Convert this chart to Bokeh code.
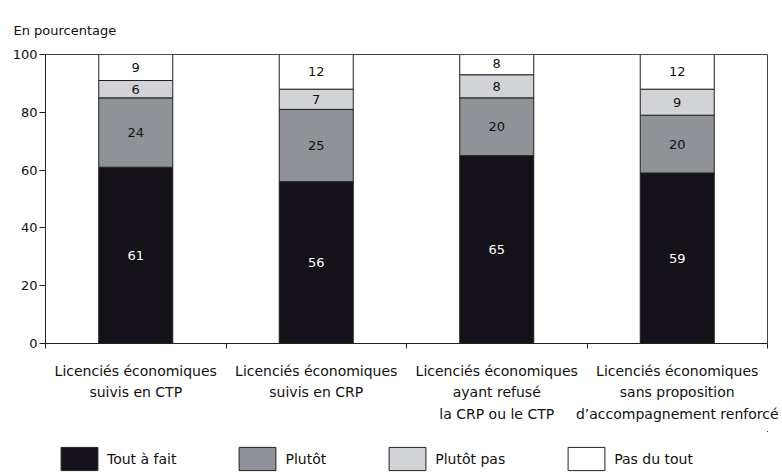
import numpy as np
from bokeh.plotting import figure
from bokeh.layouts import column
from bokeh.models import Range1d, FixedTicker, ColumnDataSource, Legend, LegendItem, Title
from bokeh.core.properties import value
from bokeh.embed import file_html
from bokeh.resources import INLINE

categories = [
    "Licenciés économiques\nsuivis en CTP",
    "Licenciés économiques\nsuivis en CRP",
    "Licenciés économiques\nayant refusé\nla CRP ou le CTP",
    "Licenciés économiques\nsans proposition\nd’accompagnement renforcé",
]
tout_a_fait = [61, 56, 65, 59]
plutot = [24, 25, 20, 20]
plutot_pas = [6, 7, 8, 9]
pas_du_tout = [9, 12, 8, 12]
series_names = ["Tout à fait", "Plutôt", "Plutôt pas", "Pas du tout"]
y_ticks = [0, 20, 40, 60, 80, 100]

colors = ["#141118", "#8f9297", "#d2d3d6", "#ffffff"]
text_colors = ["#ffffff", "#111111", "#111111", "#111111"]
edge = "#231f20"
FONT = "DejaVu Sans"

xs = [i + 0.5 for i in range(len(categories))]
series = [tout_a_fait, plutot, plutot_pas, pas_du_tout]
keys = ["s0", "s1", "s2", "s3"]
data = {"x": xs}
for k, s in zip(keys, series):
    data[k] = s
src = ColumnDataSource(data)

p = figure(frame_width=722, frame_height=289, output_backend="svg", toolbar_location=None,
           x_range=Range1d(0, len(categories)), y_range=Range1d(0, 100),
           min_border_left=45, min_border_right=15, min_border_top=54, min_border_bottom=88)
p.grid.visible = False
p.background_fill_color = "white"
p.border_fill_color = "white"
p.outline_line_color = "#444444"
p.outline_line_width = 1

rends = p.vbar_stack(keys, x="x", width=0.41, source=src, fill_color=colors,
                     line_color=edge, line_width=1)

# segment labels
cum = np.zeros(len(categories))
for s, tc in zip(series, text_colors):
    arr = np.array(s, dtype=float)
    mids = cum + arr / 2
    cum = cum + arr
    p.text(x=xs, y=list(mids), text=[str(v) for v in s], text_align="center",
           text_baseline="middle", text_font=value(FONT), text_font_size="13px",
           text_color=tc)

# axes
xa = p.xaxis[0]
xa.ticker = FixedTicker(ticks=xs, minor_ticks=list(range(len(categories) + 1)))
xa.major_label_overrides = {x: c for x, c in zip(xs, categories)}
xa.major_tick_line_color = None
xa.major_tick_out = 0
xa.minor_tick_out = 5
xa.minor_tick_in = 0
xa.minor_tick_line_color = edge
xa.axis_line_color = edge
xa.major_label_standoff = 14
xa.major_label_text_font = FONT
xa.major_label_text_font_size = "14px"
xa.major_label_text_color = "#111111"
xa.major_label_text_line_height = 1.35

ya = p.yaxis[0]
ya.ticker = FixedTicker(ticks=y_ticks, minor_ticks=[])
ya.major_tick_out = 6
ya.major_tick_in = 0
ya.major_tick_line_color = edge
ya.axis_line_color = edge
ya.major_label_standoff = 2
ya.major_label_text_font = FONT
ya.major_label_text_font_size = "13px"
ya.major_label_text_color = "#111111"

t = Title(text="En pourcentage", align="left", vertical_align="top", text_font=FONT,
          text_font_size="13px", text_font_style="normal", text_color="#111111",
          standoff=30, offset=-32)
p.add_layout(t, "above")

# legend strip below the chart (its bars fall outside its ranges; only the legend shows)
lg = figure(width=782, height=44, output_backend="svg", toolbar_location=None,
            x_range=Range1d(-20, -10), y_range=Range1d(-20, -10),
            min_border_left=0, min_border_right=0, min_border_top=0, min_border_bottom=0)
lg.axis.visible = False
lg.grid.visible = False
lg.outline_line_color = None
lrends = lg.vbar_stack(keys, x="x", width=0.41, source=src, fill_color=colors,
                       line_color=edge, line_width=1)
legend = Legend(items=[LegendItem(label=n, renderers=[r]) for n, r in zip(series_names, lrends)],
                orientation="horizontal", glyph_width=46, glyph_height=29,
                label_standoff=5, spacing=58, padding=0, margin=0,
                label_text_font=FONT, label_text_font_size="14px", label_text_color="#111111",
                border_line_color=None, background_fill_alpha=0, location=(11, 2))
lg.add_layout(legend, "center")

layout = column(p, lg, spacing=0)
open("out.html", "w").write(file_html(layout, INLINE))
